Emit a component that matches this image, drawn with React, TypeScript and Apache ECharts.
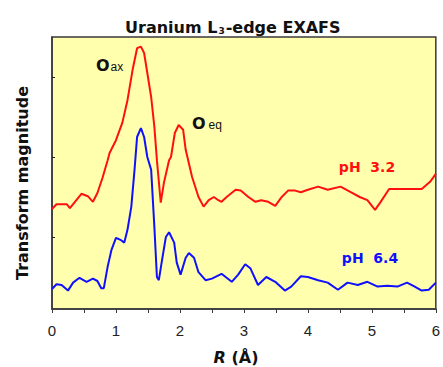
import React, { useEffect, useRef } from "react";
import * as echarts from "echarts";

// R (Å) and transform magnitude (arbitrary units, curves offset)
const ph32R = [0.00, 0.07, 0.23, 0.28, 0.46, 0.56, 0.64, 0.71, 0.79, 0.87, 0.90, 1.00, 1.10, 1.18, 1.26, 1.33, 1.39, 1.44, 1.49, 1.55, 1.60, 1.64, 1.70, 1.75, 1.83, 1.86, 1.92, 1.98, 2.05, 2.09, 2.19, 2.29, 2.37, 2.45, 2.53, 2.60, 2.65, 2.73, 2.87, 2.95, 3.07, 3.18, 3.27, 3.38, 3.49, 3.58, 3.69, 3.80, 3.89, 4.00, 4.16, 4.31, 4.51, 4.67, 4.81, 4.93, 5.05, 5.13, 5.27, 5.78, 5.91, 6.00];
const ph32Mag = [1.25, 1.31, 1.31, 1.26, 1.44, 1.41, 1.34, 1.45, 1.64, 1.86, 1.95, 2.11, 2.33, 2.61, 2.99, 3.26, 3.28, 3.20, 2.95, 2.65, 2.28, 1.86, 1.33, 1.58, 1.86, 1.90, 2.20, 2.30, 2.24, 1.99, 1.65, 1.40, 1.28, 1.36, 1.40, 1.36, 1.34, 1.40, 1.49, 1.48, 1.40, 1.34, 1.36, 1.34, 1.29, 1.39, 1.48, 1.48, 1.46, 1.49, 1.53, 1.49, 1.53, 1.46, 1.40, 1.36, 1.24, 1.33, 1.50, 1.50, 1.59, 1.69];

const ph64R = [0.00, 0.07, 0.15, 0.25, 0.33, 0.43, 0.54, 0.64, 0.71, 0.77, 0.81, 0.87, 0.93, 1.00, 1.08, 1.13, 1.18, 1.24, 1.29, 1.33, 1.39, 1.44, 1.49, 1.55, 1.60, 1.64, 1.67, 1.72, 1.78, 1.83, 1.91, 1.95, 2.01, 2.09, 2.14, 2.22, 2.29, 2.40, 2.50, 2.65, 2.81, 2.91, 3.02, 3.10, 3.22, 3.35, 3.49, 3.64, 3.74, 3.89, 4.00, 4.16, 4.31, 4.47, 4.62, 4.78, 4.93, 5.09, 5.24, 5.40, 5.55, 5.67, 5.78, 5.89, 6.00];
const ph64Mag = [0.25, 0.31, 0.30, 0.23, 0.33, 0.39, 0.34, 0.38, 0.35, 0.26, 0.26, 0.53, 0.74, 0.89, 0.86, 0.83, 0.99, 1.28, 1.74, 2.15, 2.26, 2.15, 1.90, 1.74, 1.03, 0.40, 0.36, 0.61, 0.90, 0.96, 0.83, 0.58, 0.43, 0.64, 0.70, 0.64, 0.46, 0.36, 0.38, 0.44, 0.34, 0.43, 0.56, 0.51, 0.30, 0.40, 0.34, 0.23, 0.28, 0.41, 0.40, 0.36, 0.33, 0.24, 0.33, 0.30, 0.34, 0.28, 0.29, 0.28, 0.33, 0.28, 0.23, 0.24, 0.33];

const xTickLabels = ["0", "1", "2", "3", "4", "5", "6"];
const yTickValues = [0.9, 1.9, 2.9];

export default function App() {
  const ref = useRef<HTMLDivElement>(null);
  useEffect(() => {
    if (!ref.current) return;
    const chart = echarts.init(ref.current, null, { renderer: "svg" });
    const font = "'Liberation Sans', Arial, sans-serif";
    const bold = "'DejaVu Sans', Verdana, sans-serif";
    chart.setOption({
      animation: false,
      backgroundColor: "#ffffff",
      textStyle: { fontFamily: font },
      title: {
        left: 120,
        top: 10,
        text: "{a|Uranium L}{s|3}{a|-edge EXAFS}",
        textStyle: {
          rich: {
            a: { fontSize: 16, fontWeight: "bold", color: "#111", fontFamily: bold, lineHeight: 20, verticalAlign: "bottom" },
            s: { fontSize: 9, fontWeight: "bold", color: "#111", fontFamily: bold, lineHeight: 20, verticalAlign: "bottom", padding: [0, 1, 0, 1] },
          },
        },
      },
      grid: {
        left: 52,
        right: 4,
        top: 37,
        bottom: 58,
        show: true,
        backgroundColor: "#FFFFAE",
        borderColor: "#3a3a3a",
        borderWidth: 1.5,
      },
      xAxis: {
        type: "value",
        min: 0,
        max: 6,
        interval: 1,
        axisLine: { show: true, onZero: false, lineStyle: { color: "#3a3a3a", width: 1.5 } },
        axisTick: { show: true, inside: false, length: 4, lineStyle: { color: "#3a3a3a" } },
        minorTick: { show: true, splitNumber: 2, length: 4, lineStyle: { color: "#3a3a3a" } },
        splitLine: { show: false },
        axisLabel: {
          fontSize: 15,
          color: "#222",
          margin: 14,
          formatter: (v: number) => xTickLabels[Math.round(v)] ?? "",
        },
      },
      yAxis: {
        type: "value",
        min: 0,
        max: 3.4,
        axisLine: { show: true, onZero: false, lineStyle: { color: "#3a3a3a", width: 1.5 } },
        axisTick: { show: true, inside: true, length: 3, customValues: yTickValues, lineStyle: { color: "#222" } },
        axisLabel: { show: false },
        splitLine: { show: false },
      },
      series: [
        {
          type: "line",
          name: "pH 3.2",
          data: ph32R.map((r, i) => [r, ph32Mag[i]]),
          showSymbol: false,
          lineStyle: { color: "#ff1010", width: 2 },
          itemStyle: { color: "#ff1010" },
        },
        {
          type: "line",
          name: "pH 6.4",
          data: ph64R.map((r, i) => [r, ph64Mag[i]]),
          showSymbol: false,
          lineStyle: { color: "#1010ff", width: 2 },
          itemStyle: { color: "#1010ff" },
        },
      ],
      graphic: [
        {
          type: "text",
          x: 22,
          y: 183,
          rotation: Math.PI / 2,
          style: {
            text: "Transform magnitude",
            fontSize: 16,
            fontWeight: "bold",
            fontFamily: bold,
            fill: "#111",
            align: "center",
            verticalAlign: "middle",
          },
        },
        {
          type: "text",
          x: 236,
          y: 357,
          style: {
            text: "{i|R}{n| (Å)}",
            align: "center",
            verticalAlign: "middle",
            rich: {
              i: { fontSize: 16, fontWeight: "bold", fontStyle: "italic", fontFamily: bold, fill: "#111" },
              n: { fontSize: 16, fontWeight: "bold", fontFamily: bold, fill: "#111" },
            },
          },
        },
        {
          type: "text",
          x: 96,
          y: 63,
          style: {
            text: "{o|O}{s|ax}",
            verticalAlign: "middle",
            rich: {
              o: { fontSize: 16, fontWeight: "bold", fontFamily: bold, fill: "#111", lineHeight: 20, verticalAlign: "bottom" },
              s: { fontSize: 12, fontFamily: font, fill: "#111", lineHeight: 20, verticalAlign: "bottom", padding: [10, 0, 0, 1] },
            },
          },
        },
        {
          type: "text",
          x: 192,
          y: 121,
          style: {
            text: "{o|O}{s|eq}",
            verticalAlign: "middle",
            rich: {
              o: { fontSize: 16, fontWeight: "bold", fontFamily: bold, fill: "#111", lineHeight: 20, verticalAlign: "bottom" },
              s: { fontSize: 12, fontFamily: font, fill: "#111", lineHeight: 20, verticalAlign: "bottom", padding: [10, 0, 0, 3] },
            },
          },
        },
        {
          type: "text",
          x: 367,
          y: 167,
          style: {
            text: "pH  3.2",
            fontSize: 14,
            fontWeight: "bold",
            fontFamily: bold,
            fill: "#ff1010",
            align: "center",
            verticalAlign: "middle",
          },
        },
        {
          type: "text",
          x: 370,
          y: 258,
          style: {
            text: "pH  6.4",
            fontSize: 14,
            fontWeight: "bold",
            fontFamily: bold,
            fill: "#1010ff",
            align: "center",
            verticalAlign: "middle",
          },
        },
      ],
    });
    return () => chart.dispose();
  }, []);
  return <div ref={ref} style={{ width: 443, height: 367, position: "absolute", left: 0, top: 0 }} />;
}
